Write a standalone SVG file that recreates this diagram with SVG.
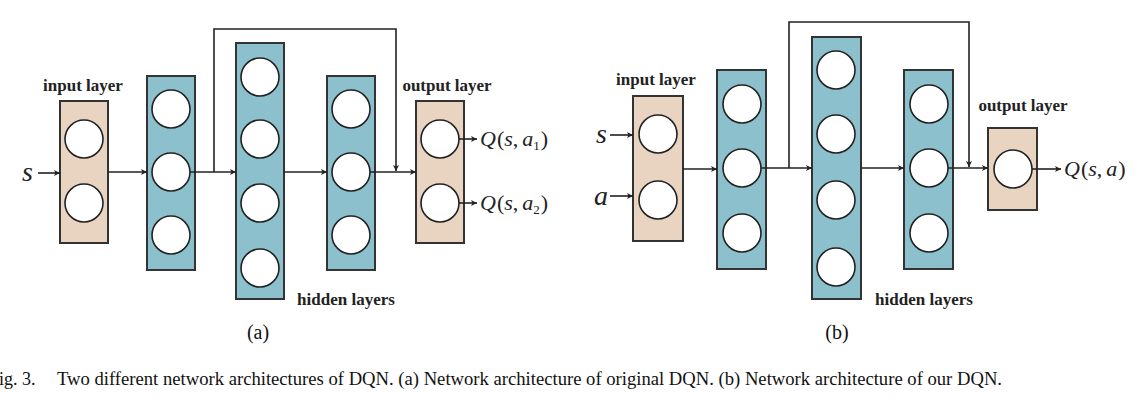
<svg xmlns="http://www.w3.org/2000/svg" width="1143" height="400" viewBox="0 0 1143 400">
<defs>
<style>
.io{fill:#e8d4c1;stroke:#333;stroke-width:2}
.hid{fill:#8dc0cd;stroke:#333;stroke-width:2}
.n{fill:#fff;stroke:#222;stroke-width:1.6}
.lbl{font-family:"Liberation Serif",serif;font-weight:bold;font-size:17px;fill:#222}
.math{font-family:"Liberation Serif",serif;font-size:22px;fill:#222}
.var{font-family:"Liberation Serif",serif;font-style:italic;font-size:28px;fill:#222}
.cap{font-family:"Liberation Serif",serif;font-size:18px;fill:#111}
.sub{font-family:"Liberation Serif",serif;font-size:20px;fill:#111}
.c{fill:none;stroke:#222;stroke-width:1.6}
</style>
<marker id="ah" markerWidth="8" markerHeight="8" refX="7" refY="4" orient="auto" markerUnits="userSpaceOnUse">
<path d="M1,1 L7,4 L1,7 L2.5,4 Z" fill="#222"/>
</marker>
</defs>
<rect width="1143" height="400" fill="#fff"/>

<!-- ===== (a) ===== -->
<g id="a-input">
<rect class="io" x="60" y="101" width="48" height="142"/>
<circle class="n" cx="84" cy="139" r="19"/>
<circle class="n" cx="84" cy="203" r="19"/>
<text class="lbl" x="83" y="91" text-anchor="middle">input layer</text>
</g>
<g id="a-h1">
<rect class="hid" x="147" y="76" width="48" height="194"/>
<circle class="n" cx="171" cy="109" r="19"/>
<circle class="n" cx="171" cy="172" r="19"/>
<circle class="n" cx="171" cy="235" r="19"/>
</g>
<g id="a-h2">
<rect class="hid" x="236" y="43" width="48" height="256"/>
<circle class="n" cx="260" cy="77" r="19"/>
<circle class="n" cx="260" cy="139" r="19"/>
<circle class="n" cx="260" cy="203" r="19"/>
<circle class="n" cx="260" cy="268" r="19"/>
<text class="lbl" x="346" y="305" text-anchor="middle">hidden layers</text>
</g>
<g id="a-h3">
<rect class="hid" x="327" y="76" width="48" height="194"/>
<circle class="n" cx="351" cy="109" r="19"/>
<circle class="n" cx="351" cy="172" r="19"/>
<circle class="n" cx="351" cy="235" r="19"/>
</g>
<g id="a-output">
<rect class="io" x="416" y="101" width="48" height="142"/>
<circle class="n" cx="440" cy="139" r="19"/>
<circle class="n" cx="440" cy="203" r="19"/>
<text class="lbl" x="447" y="91" text-anchor="middle">output layer</text>
</g>
<g id="a-texts">
<text class="var" x="22" y="181">s</text>
<text class="math" x="480" y="146"><tspan font-style="italic">Q</tspan><tspan dx="1">(</tspan><tspan font-style="italic">s</tspan>,<tspan font-style="italic" dx="4">a</tspan><tspan font-size="13" dy="4">1</tspan><tspan dy="-4" dx="1">)</tspan></text>
<text class="math" x="480" y="210"><tspan font-style="italic">Q</tspan><tspan dx="1">(</tspan><tspan font-style="italic">s</tspan>,<tspan font-style="italic" dx="4">a</tspan><tspan font-size="13" dy="4">2</tspan><tspan dy="-4" dx="1">)</tspan></text>
<text class="sub" x="258" y="339" text-anchor="middle">(a)</text>
</g>

<!-- ===== (b) ===== -->
<g id="b-input">
<rect class="io" x="633" y="96" width="50" height="145"/>
<circle class="n" cx="658" cy="134" r="19"/>
<circle class="n" cx="658" cy="200" r="19"/>
<text class="lbl" x="656" y="85" text-anchor="middle">input layer</text>
</g>
<g id="b-h1">
<rect class="hid" x="717" y="70" width="49" height="199"/>
<circle class="n" cx="742" cy="104" r="19"/>
<circle class="n" cx="742" cy="168" r="19"/>
<circle class="n" cx="742" cy="233" r="19"/>
</g>
<g id="b-h2">
<rect class="hid" x="812" y="37" width="49" height="262"/>
<circle class="n" cx="836" cy="70" r="19"/>
<circle class="n" cx="836" cy="134" r="19"/>
<circle class="n" cx="836" cy="200" r="19"/>
<circle class="n" cx="836" cy="267" r="19"/>
<text class="lbl" x="924" y="305" text-anchor="middle">hidden layers</text>
</g>
<g id="b-h3">
<rect class="hid" x="904" y="70" width="49" height="199"/>
<circle class="n" cx="929" cy="104" r="19"/>
<circle class="n" cx="929" cy="168" r="19"/>
<circle class="n" cx="929" cy="233" r="19"/>
</g>
<g id="b-output">
<rect class="io" x="988" y="128" width="49" height="82"/>
<circle class="n" cx="1013" cy="169" r="19"/>
<text class="lbl" x="1023" y="111" text-anchor="middle">output layer</text>
</g>
<g id="b-texts">
<text class="var" x="596" y="143">s</text>
<text class="var" x="594" y="205">a</text>
<text class="math" x="1064" y="176"><tspan font-style="italic">Q</tspan><tspan dx="1">(</tspan><tspan font-style="italic">s</tspan>,<tspan font-style="italic" dx="4">a</tspan><tspan dx="1">)</tspan></text>
<text class="sub" x="837" y="339" text-anchor="middle">(b)</text>
</g>

<!-- ===== connectors ===== -->
<g id="connectors">
<line class="c" x1="38" y1="173" x2="60" y2="173" marker-end="url(#ah)"/>
<line class="c" x1="108" y1="172" x2="147" y2="172" marker-end="url(#ah)"/>
<line class="c" x1="190" y1="172" x2="236" y2="172" marker-end="url(#ah)"/>
<polyline class="c" points="214,172 214,29 396,29 396,171" marker-end="url(#ah)"/>
<line class="c" x1="284" y1="172" x2="327" y2="172" marker-end="url(#ah)"/>
<line class="c" x1="370" y1="172" x2="416" y2="172" marker-end="url(#ah)"/>
<line class="c" x1="459" y1="139" x2="477" y2="139" marker-end="url(#ah)"/>
<line class="c" x1="459" y1="203" x2="477" y2="203" marker-end="url(#ah)"/>

<line class="c" x1="610" y1="135" x2="633" y2="135" marker-end="url(#ah)"/>
<line class="c" x1="610" y1="196" x2="633" y2="196" marker-end="url(#ah)"/>
<line class="c" x1="683" y1="169" x2="717" y2="169" marker-end="url(#ah)"/>
<line class="c" x1="761" y1="168" x2="812" y2="168" marker-end="url(#ah)"/>
<polyline class="c" points="789,168 789,22 969,22 969,167" marker-end="url(#ah)"/>
<line class="c" x1="861" y1="168" x2="904" y2="168" marker-end="url(#ah)"/>
<line class="c" x1="948" y1="168" x2="988" y2="168" marker-end="url(#ah)"/>
<line class="c" x1="1032" y1="169" x2="1061" y2="169" marker-end="url(#ah)"/>
</g>

<g id="caption">
<text class="cap" x="-1" y="385">ig. 3.</text>
<text class="cap" x="57" y="385" textLength="945" lengthAdjust="spacingAndGlyphs">Two different network architectures of DQN. (a) Network architecture of original DQN. (b) Network architecture of our DQN.</text>
</g>
</svg>
